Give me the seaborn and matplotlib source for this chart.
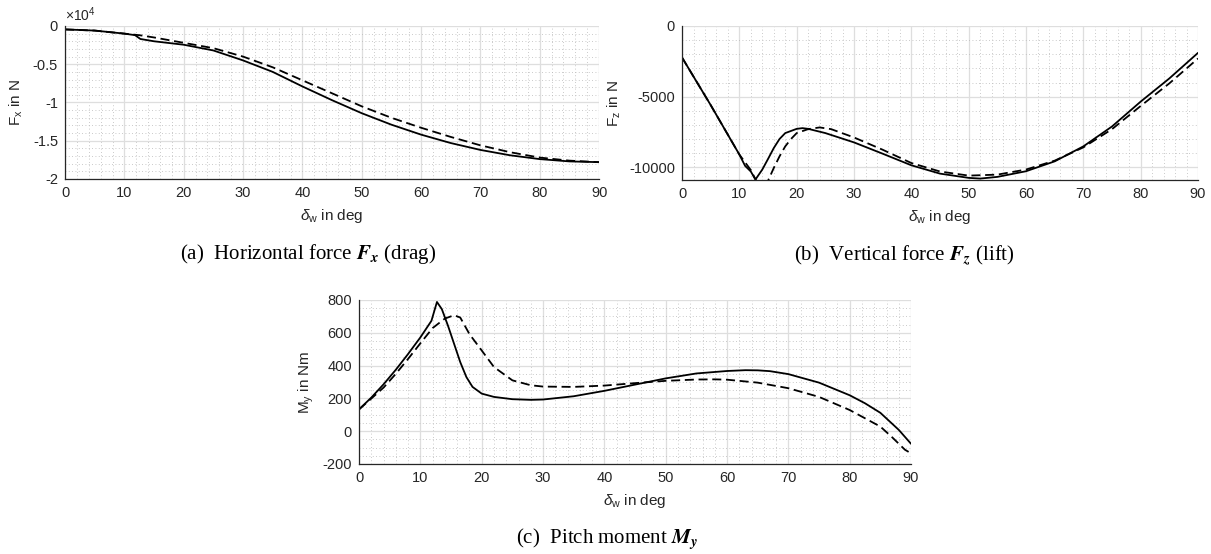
import numpy as np
import matplotlib
matplotlib.use("Agg")
import matplotlib.pyplot as plt
import seaborn as sns
from matplotlib.ticker import MultipleLocator, AutoMinorLocator, FuncFormatter

# === DONNÉES ===

# (a) force horizontale Fx en N
fx_solid_deg = [0, 5, 10, 11.8, 12.7, 15, 20, 25, 30, 35, 40, 45, 50, 55, 60, 65, 70, 75, 80, 85, 90]
fx_solid = [-450, -600, -1000, -1200, -1700, -2000, -2450, -3200, -4500, -6000, -7900, -9700,
            -11400, -12900, -14200, -15300, -16200, -16900, -17400, -17700, -17800]
fx_dash_deg = [0, 5, 10, 12.5, 15, 20, 25, 30, 35, 40, 45, 50, 55, 60, 65, 70, 75, 80, 85, 90]
fx_dash = [-450, -600, -1000, -1200, -1500, -2200, -2900, -4000, -5400, -7100, -8800, -10500,
           -12000, -13300, -14500, -15600, -16500, -17200, -17600, -17800]

# (b) force verticale Fz en N
fz_solid_deg = [0, 5, 10, 11, 12, 12.8, 14, 15, 16, 17, 18, 20, 21, 22, 25, 30, 35, 40, 45, 50, 52,
                55, 60, 65, 70, 75, 80, 85, 90]
fz_solid = [-2230, -5600, -9100, -9900, -10300, -10870, -10160, -9410, -8640, -8000, -7580, -7280,
            -7230, -7280, -7580, -8240, -9040, -9860, -10450, -10750, -10800, -10680, -10280,
            -9580, -8520, -7110, -5350, -3710, -1900]
fz_dash_deg = [0, 5, 10, 12, 13, 14, 15, 16, 17, 18, 19, 20, 22, 24, 26, 30, 35, 40, 45, 50, 55,
               60, 65, 70, 75, 80, 85, 90]
fz_dash = [-2230, -5600, -9100, -10200, -11000, -11200, -10950, -10050, -9230, -8520, -8000, -7580,
           -7300, -7180, -7300, -7890, -8760, -9700, -10300, -10590, -10520, -10160, -9530, -8590,
           -7300, -5660, -4060, -2300]

# (c) moment de tangage My en Nm
my_solid_deg = [0, 2, 4, 6, 8, 10, 11.8, 12.7, 13.5, 14.5, 15.5, 16.5, 17.5, 18.5, 20, 22, 25, 28,
                30, 35, 40, 45, 50, 55, 60, 63, 65, 67, 70, 75, 80, 82.5, 85, 88, 90]
my_solid = [133, 205, 286, 375, 471, 572, 673, 788, 744, 643, 532, 421, 330, 270, 229, 209, 195, 191,
            193, 213, 246, 284, 322, 352, 367, 372, 371, 366, 348, 296, 219, 170, 112, 8, -77]
my_dash_deg = [0, 2, 4, 6, 8, 10, 12, 14, 15.5, 16.5, 18, 20, 22, 25, 28, 30, 35, 40, 45, 50, 55,
               58, 60, 65, 70, 75, 80, 85, 87, 89, 90]
my_dash = [133, 199, 266, 350, 441, 536, 629, 687, 707, 693, 592, 492, 391, 310, 280, 272, 270, 278,
           293, 307, 315, 316, 314, 296, 262, 209, 129, 28, -40, -113, -135]

xticks_deg = list(range(0, 91, 10))

captions = [r"(a)  Horizontal force $\mathbfit{F_x}$ (drag)",
            r"(b)  Vertical force $\mathbfit{F_z}$ (lift)",
            r"(c)  Pitch moment $\mathbfit{M_y}$"]

# === STYLE ===

sns.set_style("white")
plt.rcParams["font.family"] = ["Liberation Sans", "DejaVu Sans"]
plt.rcParams["mathtext.fontset"] = "custom"
plt.rcParams["mathtext.rm"] = "Liberation Sans"
plt.rcParams["mathtext.it"] = "Liberation Sans:italic"
plt.rcParams["axes.unicode_minus"] = False

TXT = "#262626"
DASH = (0, (5, 2.6))


def habiller_axe(ax, ylim, ymajor, yminor_div, ylabel, label_x):
    ax.set_xlim(0, 90)
    ax.set_ylim(*ylim)
    ax.set_xticks(xticks_deg)
    ax.yaxis.set_major_locator(MultipleLocator(ymajor))
    ax.xaxis.set_minor_locator(AutoMinorLocator(5))
    ax.yaxis.set_minor_locator(AutoMinorLocator(yminor_div))
    ax.grid(True, which="major", color="#dedede", linewidth=0.9, linestyle="-")
    ax.grid(True, which="minor", color="#b8b8b8", linewidth=0.6, linestyle=(0, (1, 3)))
    ax.set_axisbelow(True)
    for s in ["top", "right"]:
        ax.spines[s].set_visible(False)
    for s in ["left", "bottom"]:
        ax.spines[s].set_color(TXT)
        ax.spines[s].set_linewidth(0.9)
    ax.tick_params(which="major", direction="in", length=4, width=0.8, color=TXT,
                   labelsize=10.5, labelcolor=TXT, pad=5)
    ax.tick_params(which="minor", length=0)
    ax.set_xlabel(r"$\delta_{\rm w}$ in deg", fontsize=11, color=TXT, labelpad=5)
    ax.set_ylabel(ylabel, fontsize=11, color=TXT)
    ax.yaxis.set_label_coords(label_x, 0.5)


fig = plt.figure(figsize=(12.11, 5.54), dpi=100)
ax_a = fig.add_axes([0.0537, 0.6769, 0.4410, 0.2762])
ax_b = fig.add_axes([0.5632, 0.6751, 0.4261, 0.2780])
ax_c = fig.add_axes([0.2965, 0.1625, 0.4558, 0.2960])

series = [
    (ax_a, fx_solid_deg, fx_solid, fx_dash_deg, fx_dash),
    (ax_b, fz_solid_deg, fz_solid, fz_dash_deg, fz_dash),
    (ax_c, my_solid_deg, my_solid, my_dash_deg, my_dash),
]
for ax, xs, ys, xd, yd in series:
    sns.lineplot(x=xs, y=ys, ax=ax, color="black", linewidth=1.3)
    sns.lineplot(x=xd, y=yd, ax=ax, color="black", linewidth=1.3, linestyle=DASH)

habiller_axe(ax_a, (-20000, 0), 5000, 5, r"F$_{\rm x}$ in N", -0.075)
ax_a.yaxis.set_major_formatter(FuncFormatter(lambda v, p: f"{v / 1e4:g}"))
ax_a.text(0.0, 1.01, r"$\times$10$^4$", transform=ax_a.transAxes, fontsize=10,
          color=TXT, ha="left", va="bottom")

habiller_axe(ax_b, (-10900, 0), 5000, 5, r"F$_{\rm z}$ in N", -0.115)
habiller_axe(ax_c, (-200, 800), 200, 4, r"M$_{\rm y}$ in Nm", -0.078)

for (cx, cy), txt in zip([(0.2543, 0.5415), (0.7465, 0.5397), (0.5012, 0.0271)], captions):
    t = fig.text(cx, cy, txt, ha="center", va="center", fontsize=15, color="black",
                 family="Liberation Serif")
    t.set_math_fontfamily("stix")

fig.savefig("out.png", dpi=100)
